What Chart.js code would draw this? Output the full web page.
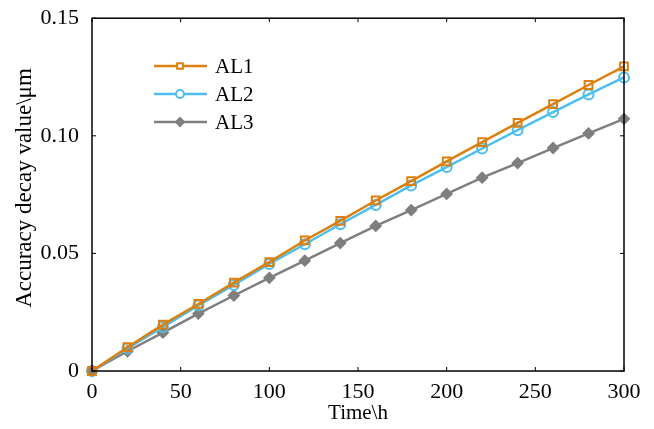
<!DOCTYPE html>
<html>
<head>
<meta charset="utf-8">
<script src="https://cdn.jsdelivr.net/npm/chart.js@4/dist/chart.umd.min.js"></script>
<style>
  html, body { margin: 0; padding: 0; background: #fff; }
  #wrap { width: 654px; height: 429px; }
</style>
</head>
<body>
<div id="wrap"><canvas id="accChart"></canvas></div>
<script>
// hours, every 20 h
const hours = [0, 20, 40, 60, 80, 100, 120, 140, 160, 180, 200, 220, 240, 260, 280, 300];
const al1 = [0, 0.0101, 0.0197, 0.0285, 0.0376, 0.0463, 0.0555, 0.0638, 0.0725, 0.0807, 0.0891, 0.0973, 0.1055, 0.1135, 0.1216, 0.1295];
const al2 = [0, 0.0096, 0.0187, 0.0279, 0.0366, 0.0455, 0.0539, 0.0624, 0.0706, 0.0789, 0.0867, 0.0946, 0.1024, 0.1101, 0.1176, 0.1248];
const al3 = [0, 0.0084, 0.0163, 0.0244, 0.0321, 0.0396, 0.0469, 0.0544, 0.0617, 0.0684, 0.0753, 0.0822, 0.0884, 0.0948, 0.1010, 0.1072];
const seriesNames = ['AL1', 'AL2', 'AL3'];
const xTicks = [0, 50, 100, 150, 200, 250, 300];
const yTicks = [0, 0.05, 0.10, 0.15];

const colors = ['#DD7F0E', '#4DBEEE', '#7F7F7F'];
const markers = ['rect', 'circle', 'rectRot'];
const FONT = "'Liberation Serif', 'Times New Roman', serif";
const yTitle = 'Accuracy decay value\\μm';

const toPoints = arr => arr.map((v, i) => ({ x: hours[i], y: v }));

// box + inward ticks on all four sides, y title, and the legend inside the plot
const frameAndLegend = {
  id: 'frameAndLegend',
  afterDraw(chart) {
    const { ctx, chartArea: a, scales } = chart;
    ctx.save();
    ctx.strokeStyle = '#000';
    ctx.lineWidth = 1.5;
    ctx.strokeRect(a.left, a.top, a.right - a.left, a.bottom - a.top);
    ctx.lineWidth = 1;
    const tl = 4;
    xTicks.forEach(t => {
      const x = scales.x.getPixelForValue(t);
      ctx.beginPath();
      ctx.moveTo(x, a.bottom); ctx.lineTo(x, a.bottom - tl);
      ctx.moveTo(x, a.top); ctx.lineTo(x, a.top + tl);
      ctx.stroke();
    });
    yTicks.forEach(t => {
      const y = scales.y.getPixelForValue(t);
      ctx.beginPath();
      ctx.moveTo(a.left, y); ctx.lineTo(a.left + tl, y);
      ctx.moveTo(a.right, y); ctx.lineTo(a.right - tl, y);
      ctx.stroke();
    });

    // y axis title
    ctx.save();
    ctx.translate(25, 188);
    ctx.rotate(-Math.PI / 2);
    ctx.fillStyle = '#000';
    ctx.font = '23px ' + FONT;
    ctx.textAlign = 'center';
    ctx.textBaseline = 'middle';
    ctx.fillText(yTitle, 0, 0);
    ctx.restore();

    // legend
    const rows = [66, 94, 122];
    chart.data.datasets.forEach((ds, i) => {
      const y = rows[i];
      ctx.strokeStyle = ds.borderColor;
      ctx.lineWidth = 2.5;
      ctx.beginPath();
      ctx.moveTo(154, y); ctx.lineTo(207, y);
      ctx.stroke();
      ctx.fillStyle = ds.pointStyle === 'rectRot' ? ds.borderColor : '#fff';
      ctx.lineWidth = 2;
      Chart.helpers.drawPoint(ctx, {
        pointStyle: ds.pointStyle, radius: 4, borderWidth: 2
      }, 180, y);
      ctx.fillStyle = '#000';
      ctx.font = '21px ' + FONT;
      ctx.textBaseline = 'middle';
      ctx.textAlign = 'left';
      ctx.fillText(ds.label, 215, y + 1);
    });
    ctx.restore();
  }
};

new Chart(document.getElementById('accChart'), {
  type: 'line',
  data: {
    datasets: [al1, al2, al3].map((arr, i) => ({
      label: seriesNames[i],
      data: toPoints(arr),
      borderColor: colors[i],
      backgroundColor: colors[i],
      pointBackgroundColor: i === 2 ? colors[i] : 'rgba(255,255,255,0)',
      pointBorderColor: colors[i],
      pointStyle: markers[i],
      pointRadius: i === 0 ? 5.5 : 5,
      pointBorderWidth: 2,
      borderWidth: 2.5,
      tension: 0,
      clip: false
    }))
  },
  options: {
    responsive: true,
    maintainAspectRatio: false,
    animation: false,
    layout: { padding: { left: 0, right: 30, top: 16, bottom: 0 } },
    plugins: { legend: { display: false }, tooltip: { enabled: false } },
    scales: {
      x: {
        type: 'linear',
        min: 0, max: 300,
        afterBuildTicks: s => { s.ticks = xTicks.map(v => ({ value: v })); },
        afterFit: s => { s.height = 58; },
        grid: { display: false },
        border: { display: false },
        ticks: { color: '#000', font: { family: FONT, size: 22 }, padding: 0, maxRotation: 0 },
        title: { display: true, text: 'Time\\h', color: '#000', font: { family: FONT, size: 21 }, padding: { top: 0, bottom: 3 } }
      },
      y: {
        type: 'linear',
        min: 0, max: 0.15,
        afterBuildTicks: s => { s.ticks = yTicks.map(v => ({ value: v })); },
        afterFit: s => { s.width = 92; },
        grid: { display: false },
        border: { display: false },
        ticks: {
          color: '#000', font: { family: FONT, size: 22 }, padding: 5,
          callback: v => v === 0 ? '0' : v.toFixed(2)
        }
      }
    }
  },
  plugins: [frameAndLegend]
});
</script>
</body>
</html>
